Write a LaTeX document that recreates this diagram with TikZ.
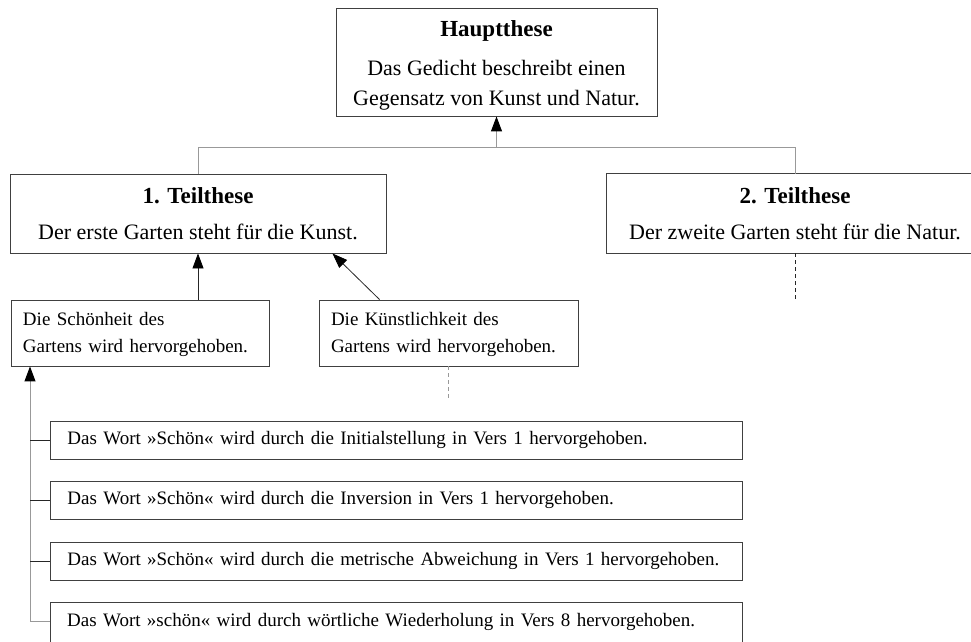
\documentclass[tikz,border=0pt]{standalone}
\usepackage{fontspec}
\setmainfont{Liberation Serif}
\usetikzlibrary{calc,arrows.meta}
\tikzset{
  boxline/.style={draw=black!75, line width=0.9pt},
  box/.style={boxline, rectangle, inner sep=0pt, align=center, font=\fontsize{22}{30}\selectfont},
  openbox/.style={rectangle, inner sep=0pt, align=center, font=\fontsize{22}{30}\selectfont},
  smallbox/.style={boxline, rectangle, inner sep=0pt, font=\fontsize{19}{27}\selectfont},
  opensmallbox/.style={rectangle, inner sep=0pt, font=\fontsize{19}{27}\selectfont},
  conn/.style={draw=black!40, line width=1pt},
  darkconn/.style={draw=black!85, line width=0.8pt},
  arr/.style={-{Triangle[length=15pt,width=11pt,fill=black,color=black]}},
}
\begin{document}
\begin{tikzpicture}[x=1pt,y=-1pt]
\useasboundingbox (0,0) rectangle (971,641);
\clip (0,0) rectangle (971,641);
% main nodes
\node[box, minimum width=321pt, minimum height=108pt] (haupt) at (496.5,62)
  {\rule{0pt}{22pt}\textbf{\fontsize{23}{30}\selectfont Hauptthese}\\[9pt]Das Gedicht beschreibt einen\\Gegensatz von Kunst und Natur.};
\node[box, minimum width=376pt, minimum height=79pt] (t1) at (198,213.5)
  {\textbf{\fontsize{23}{30}\selectfont 1. Teilthese}\\[6pt]Der erste Garten steht für die Kunst.};
\node[openbox, minimum width=376pt, minimum height=79pt] (t2) at (795,213.5)
  {\textbf{\fontsize{23}{30}\selectfont 2. Teilthese}\\[6pt]Der zweite Garten steht für die Natur.};
\draw[boxline] ($(t2.north east)+(20,0)$) -- (t2.north west) -- (t2.south west) -- ($(t2.south east)+(20,0)$);
\node[smallbox, minimum width=258pt, minimum height=66pt, align=left, text width=234pt] (s1) at (140,333)
  {\rule{0pt}{17pt}Die Schönheit des\\Gartens wird hervorgehoben.};
\node[smallbox, minimum width=259pt, minimum height=66pt, align=left, text width=235pt] (s2) at (448.5,333)
  {\rule{0pt}{17pt}Die Künstlichkeit des\\Gartens wird hervorgehoben.};
\node[smallbox, minimum width=692pt, minimum height=38pt, anchor=west, text width=680pt, align=left] (e1) at (50,440)
  {\hspace*{11pt}Das Wort »Schön« wird durch die Initialstellung in Vers 1 hervorgehoben.};
\node[smallbox, minimum width=692pt, minimum height=38pt, anchor=west, text width=680pt, align=left] (e2) at (50,500)
  {\hspace*{11pt}Das Wort »Schön« wird durch die Inversion in Vers 1 hervorgehoben.};
\node[smallbox, minimum width=692pt, minimum height=38pt, anchor=west, text width=680pt, align=left] (e3) at (50,561)
  {\hspace*{11pt}Das Wort »Schön« wird durch die metrische Abweichung in Vers 1 hervorgehoben.};
\node[opensmallbox, minimum width=692pt, minimum height=38pt, anchor=west, text width=680pt, align=left] (e4) at (50,622)
  {\hspace*{11pt}Das Wort »schön« wird durch wörtliche Wiederholung in Vers 8 hervorgehoben.};
\draw[boxline] ($(e4.south west)+(0,20)$) -- (e4.north west) -- (e4.north east) -- ($(e4.south east)+(0,20)$);
% connectors top
\coordinate (hbar) at ($(haupt.south)+(0,31)$);
\draw[conn] (t1.north) |- (hbar) -| (t2.north);
\draw[conn, arr] (hbar) -- (haupt.south);
% t2 dashed continuation
\coordinate (t2end) at ($(t2.south)+(0,47)$);
\draw[darkconn, dash pattern=on 4pt off 3pt] (t2.south) -- (t2end);
% s1 -> t1
\draw[darkconn, arr] (t1.south |- s1.north) -- (t1.south);
% s2 -> t1
\draw[darkconn, arr] ($(s2.north west)+(61,0)$) -- ($(t1.south east)+(-54,0)$);
% s2 dashed continuation
\coordinate (s2end) at ($(s2.south)+(0,32)$);
\draw[conn, dash pattern=on 4pt off 3pt] (s2.south) -- (s2end);
% left vertical
\coordinate (vbot) at (30,621);
\draw[conn, arr] (vbot) -- (vbot |- s1.south);
\foreach \n in {e1,e2,e3} \draw[darkconn] (vbot |- \n.west) -- (\n.west);
\draw[conn] (vbot) -- (e4.west |- vbot);
\end{tikzpicture}
\end{document}
